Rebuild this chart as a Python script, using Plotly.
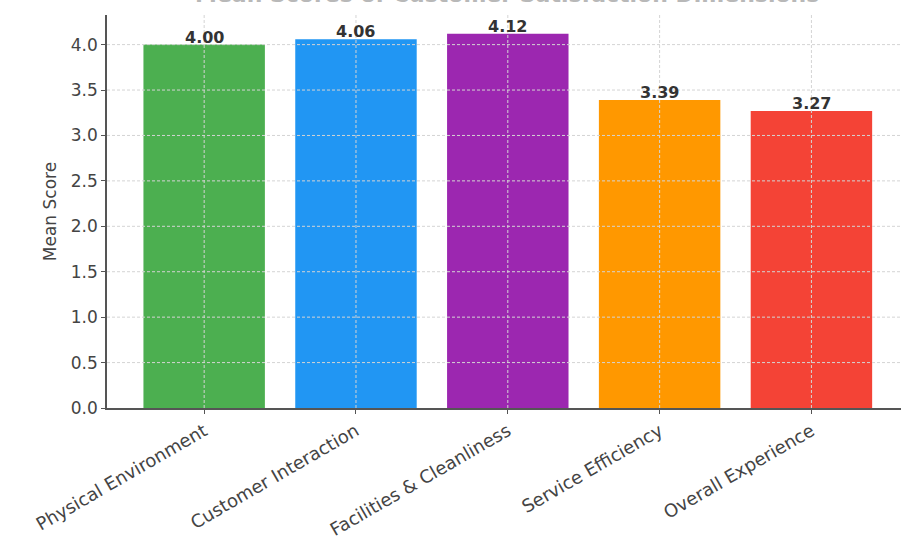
import plotly.graph_objects as go

# Mean score per satisfaction dimension
dimensions = ["Physical Environment", "Customer Interaction", "Facilities & Cleanliness",
              "Service Efficiency", "Overall Experience"]
mean_scores = [4.00, 4.06, 4.12, 3.39, 3.27]
bar_colors = ["#4CAF50", "#2196F3", "#9C27B0", "#FF9800", "#F44336"]
y_ticks = [0.0, 0.5, 1.0, 1.5, 2.0, 2.5, 3.0, 3.5, 4.0]
chart_title = "Mean Scores of Customer Satisfaction Dimensions"

FONT = "DejaVu Sans"
GRID = "#d4d4d4"
AXIS = "#555555"

x_pos = list(range(len(dimensions)))

fig = go.Figure(
    go.Bar(
        x=x_pos,
        y=mean_scores,
        width=0.8,
        marker=dict(color=bar_colors, line=dict(width=0)),
        hoverinfo="skip",
    )
)

# value labels sitting on the bar tops
annotations = [
    dict(x=x, y=v, xref="x", yref="y", text=f"{v:.2f}", showarrow=False,
         yanchor="bottom", yshift=-4,
         font=dict(family=FONT, size=16, color="#333333", weight="bold"))
    for x, v in zip(x_pos, mean_scores)
]
# title placed above the plot area
annotations.append(
    dict(x=0.504, y=1, xref="paper", yref="paper", text=chart_title, showarrow=False,
         xanchor="center", yanchor="bottom", yshift=6,
         font=dict(family=FONT, size=22, color="#b8b8b8", weight="bold"))
)

# dashed grid drawn on top of the bars
shapes = []
for t in y_ticks[1:]:
    shapes.append(dict(type="line", xref="paper", x0=0, x1=1, yref="y", y0=t, y1=t,
                       layer="above", line=dict(color=GRID, width=1, dash="3px,2px")))
for x in x_pos:
    shapes.append(dict(type="line", xref="x", x0=x, x1=x, yref="paper", y0=0, y1=1,
                       layer="above", line=dict(color=GRID, width=1, dash="3px,2px")))

fig.update_layout(
    width=901,
    height=540,
    margin=dict(l=107, r=0, t=15, b=132),
    paper_bgcolor="white",
    plot_bgcolor="white",
    showlegend=False,
    shapes=shapes,
    annotations=annotations,
    font=dict(family=FONT, color="#444444"),
)

fig.update_xaxes(
    range=[-0.64, 4.59],
    tickvals=x_pos,
    ticktext=dimensions,
    tickangle=-30,
    tickfont=dict(family=FONT, size=18, color="#444444"),
    ticks="outside", ticklen=4, tickcolor=AXIS,
    showline=True, linecolor=AXIS, linewidth=1.5,
    showgrid=False, zeroline=False,
    automargin=False,
    layer="above traces",
)
fig.update_yaxes(
    range=[0, 4.326],
    tickvals=y_ticks,
    ticktext=[f"{t:.1f}" for t in y_ticks],
    tickfont=dict(family=FONT, size=17, color="#444444"),
    ticks="outside", ticklen=4, tickcolor=AXIS,
    showline=True, linecolor=AXIS, linewidth=1.5,
    showgrid=False, zeroline=False,
    automargin=False,
    title=dict(text="Mean Score", font=dict(family=FONT, size=17, color="#444444"), standoff=10),
    layer="above traces",
)

fig.write_html("out.html")
